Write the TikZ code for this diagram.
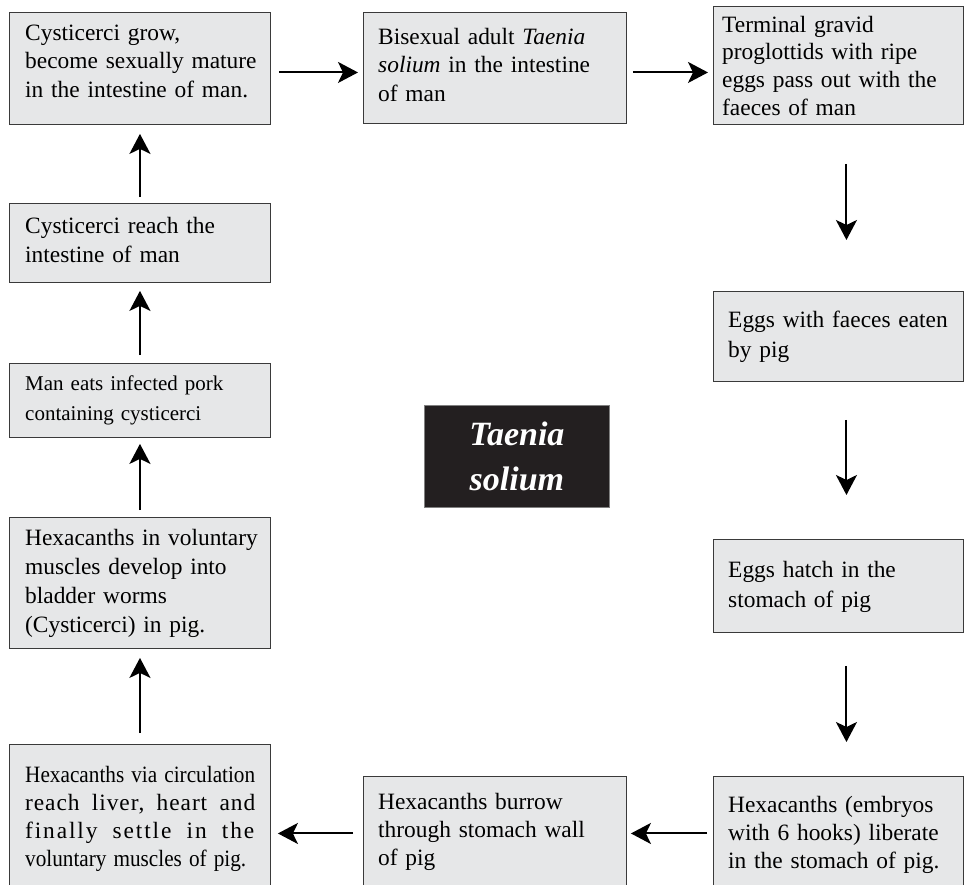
\documentclass[tikz,border=0pt]{standalone}
\usepackage{fontspec}
\setmainfont{Liberation Serif}
\usepackage{graphicx}
\usetikzlibrary{arrows.meta,calc}
\definecolor{boxfill}{HTML}{E6E7E8}
\definecolor{boxline}{HTML}{3A3A3A}
\definecolor{darkfill}{HTML}{231F20}
\begin{document}
\begin{tikzpicture}[x=1bp,y=-1bp,
  box/.style={rectangle,draw=boxline,fill=boxfill,line width=0.9bp,inner sep=0pt},
  txt/.style={anchor=base west,inner sep=0pt,text width=250bp,align=left,
    font=\fontsize{23.4bp}{#1}\selectfont},
  txt/.default=28.5bp,
  arr/.style={draw=black,line width=2bp,-{Stealth[length=20bp,width=21bp,inset=5bp]}}]
\useasboundingbox (0,0) rectangle (964,885);
\clip (0,0) rectangle (964,885);
% boxes
\node[box,anchor=north west,minimum width=261bp,minimum height=112bp] (A) at (9,12) {};
\node[box,anchor=north west,minimum width=263bp,minimum height=111bp] (B) at (363,12) {};
\node[box,anchor=north west,minimum width=250bp,minimum height=118bp] (C) at (713,6) {};
\node[box,anchor=north west,minimum width=250bp,minimum height=90bp] (D) at (713,291) {};
\node[box,anchor=north west,minimum width=250bp,minimum height=93bp] (E) at (713,539) {};
\node[box,anchor=north west,minimum width=250bp,minimum height=124bp] (F) at (713,776) {};
\node[box,anchor=north west,minimum width=263bp,minimum height=124bp] (G) at (363,776) {};
\node[box,anchor=north west,minimum width=261bp,minimum height=156bp] (H) at (9,744) {};
\node[box,anchor=north west,minimum width=261bp,minimum height=131bp] (I) at (9,517) {};
\node[box,anchor=north west,minimum width=261bp,minimum height=74bp] (J) at (9,363) {};
\node[box,anchor=north west,minimum width=261bp,minimum height=79bp] (K) at (9,203) {};
\node[rectangle,draw=gray,fill=darkfill,line width=0.8bp,inner sep=0pt,
  anchor=north west,minimum width=185bp,minimum height=102bp,
  text=white,align=center,font=\fontsize{34bp}{45bp}\selectfont\bfseries\itshape] (T) at (424,405)
  {Taenia\\solium};
% texts
\node[txt] (At) at (25,40) {Cysticerci grow,\\become sexually mature\\in the intestine of man.};
\node[txt] (Bt) at (378,44) {Bisexual adult \textit{Taenia}\\\textit{solium} in the intestine\\of man};
\node[txt=27.7bp] (Ct) at (722,32) {Terminal gravid\\proglottids with ripe\\eggs pass out with the\\faeces of man};
\node[txt=30bp] (Dt) at (728,327) {Eggs with faeces eaten\\by pig};
\node[txt=30bp] (Et) at (728,577) {Eggs hatch in the\\stomach of pig};
\node[txt=28bp] (Ft) at (728,812) {Hexacanths (embryos\\with 6 hooks) liberate\\in the stomach of pig.};
\node[txt=28bp] (Gt) at (378,809) {Hexacanths burrow\\through stomach wall\\of pig};
\node[txt=28bp] (Ht) at (25,782) {\resizebox{230bp}{\height}{Hexacanths via circulation}\\
  \makebox[230bp][l]{\addfontfeature{LetterSpace=4}reach\hfill liver,\hfill heart\hfill and}\\
  \makebox[229bp][l]{\addfontfeature{LetterSpace=8}finally\hfill settle\hfill in\hfill the}\\
  \resizebox{221bp}{\height}{voluntary muscles of pig.}};
\node[txt=29bp] (It) at (25,545) {Hexacanths in voluntary\\muscles develop into\\bladder worms\\(Cysticerci) in pig.};
\node[txt=30bp,font=\fontsize{21bp}{30bp}\selectfont] (Jt) at (25,390) {Man eats infected pork\\containing cysticerci};
\node[txt=29bp] (Kt) at (25,233) {Cysticerci reach the\\intestine of man};
% arrows
\draw[arr,shorten <=8bp,shorten >=5bp] ([yshift=-4bp]A.east) -- ([yshift=-4bp]A.east -| B.west);
\draw[arr,shorten <=6bp,shorten >=5bp] ([yshift=-4.5bp]B.east) -- ([yshift=-4.5bp]B.east -| C.west);
\draw[arr,shorten <=39bp,shorten >=51bp] ([xshift=8bp]C.south) -- ([xshift=8bp]C.south |- D.north);
\draw[arr,shorten <=38bp,shorten >=44bp] ([xshift=8bp]D.south) -- ([xshift=8bp]D.south |- E.north);
\draw[arr,shorten <=33bp,shorten >=34bp] ([xshift=8bp]E.south) -- ([xshift=8bp]E.south |- F.north);
\draw[arr,shorten <=6bp,shorten >=4bp] ([yshift=5bp]F.west) -- ([yshift=5bp]F.west -| G.east);
\draw[arr,shorten <=10bp,shorten >=7bp] ([yshift=5bp]G.west) -- ([yshift=5bp]G.west -| H.east);
\draw[arr,shorten <=11bp,shorten >=9bp] (H.north) -- (I.south);
\draw[arr,shorten <=7bp,shorten >=6bp] (I.north) -- (J.south);
\draw[arr,shorten <=8bp,shorten >=8bp] (J.north) -- (K.south);
\draw[arr,shorten <=6bp,shorten >=9bp] (K.north) -- (A.south);
\end{tikzpicture}
\end{document}
